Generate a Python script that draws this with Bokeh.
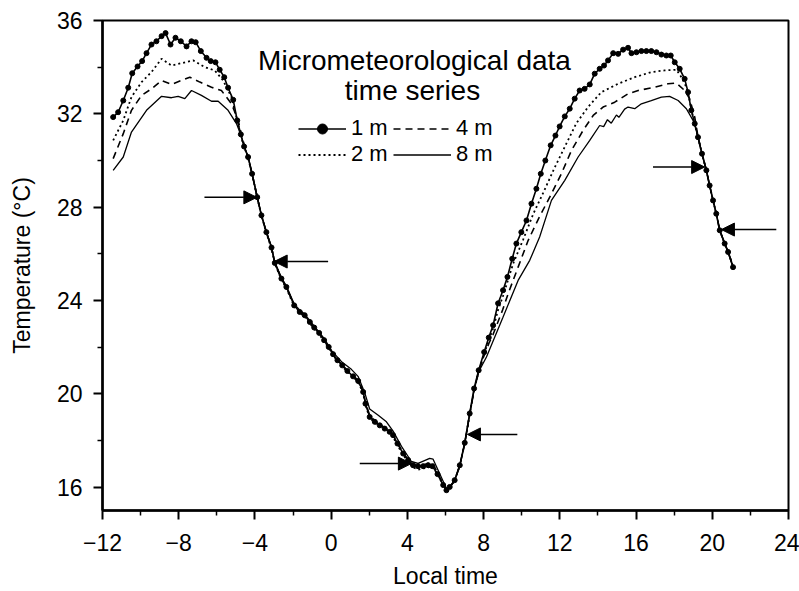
from bokeh.plotting import figure
from bokeh.models import Range1d, FixedTicker, Label, Legend, LegendItem, Arrow, NormalHead
from bokeh.embed import file_html
from bokeh.resources import INLINE

# ---------------- data ----------------
time_1m = [-11.44, -11.18, -10.91, -10.65, -10.44, -10.16, -9.92, -9.69, -9.43, -9.17,
           -8.90, -8.69, -8.43, -8.17, -7.89, -7.59, -7.33, -7.11, -6.84, -6.54,
           -6.32, -6.07, -5.85, -5.61, -5.41, -5.14, -4.93, -4.74, -4.57, -4.36,
           -4.15, -3.88, -3.66, -3.40, -3.13, -2.96, -2.61, -2.35, -1.94, -1.65,
           -1.39, -1.12, -0.89, -0.63, -0.37, -0.13, 0.10, 0.33, 0.58, 0.85,
           1.15, 1.42, 1.68, 1.80, 2.02, 2.29, 2.55, 2.81, 3.07, 3.25,
           3.48, 3.78, 4.04, 4.30, 4.56, 4.83, 5.09, 5.31, 5.58, 5.88,
           6.05, 6.22, 6.48, 6.75, 7.01, 7.27, 7.50, 7.74, 8.03, 8.27,
           8.50, 8.76, 9.02, 9.25, 9.50, 9.72, 9.98, 10.25, 10.51, 10.77,
           11.00, 11.24, 11.52, 11.77, 11.99, 12.26, 12.52, 12.78, 13.04, 13.30,
           13.57, 13.83, 14.09, 14.32, 14.53, 14.80, 15.06, 15.32, 15.58, 15.76,
           16.02, 16.28, 16.54, 16.80, 17.07, 17.33, 17.59, 17.82, 18.03, 18.29,
           18.55, 18.73, 18.90, 19.08, 19.25, 19.46, 19.69, 19.86, 20.04, 20.21,
           20.39, 20.65, 20.83, 21.09]
temp_1m = [31.86, 32.07, 32.57, 33.12, 33.74, 34.03, 34.26, 34.60, 34.97, 35.11,
           35.33, 35.46, 34.97, 35.26, 35.11, 34.89, 35.11, 35.07, 34.69, 34.40,
           34.26, 34.21, 33.89, 33.57, 33.12, 32.60, 31.72, 31.12, 30.60, 30.15,
           29.43, 28.43, 27.65, 26.93, 26.27, 25.61, 24.94, 24.58, 23.79, 23.51,
           23.37, 23.08, 22.84, 22.61, 22.30, 22.01, 21.70, 21.44, 21.22, 20.98,
           20.75, 20.55, 20.08, 19.58, 19.01, 18.80, 18.65, 18.51, 18.37, 18.23,
           17.87, 17.44, 17.16, 16.94, 16.90, 16.90, 16.94, 16.90, 16.56, 16.09,
           15.87, 16.01, 16.30, 16.94, 17.90, 19.16, 20.23, 21.01, 21.79, 22.41,
           22.94, 23.88, 24.44, 25.01, 25.79, 26.44, 26.93, 27.43, 28.15, 28.79,
           29.43, 30.00, 30.65, 31.07, 31.46, 31.89, 32.22, 32.65, 33.00, 33.07,
           33.26, 33.72, 33.93, 34.07, 34.29, 34.60, 34.57, 34.75, 34.83, 34.60,
           34.64, 34.69, 34.69, 34.69, 34.64, 34.54, 34.50, 34.50, 34.21, 33.93,
           33.50, 32.93, 32.15, 31.58, 31.00, 30.29, 29.58, 28.93, 28.29, 27.72,
           27.01, 26.44, 26.08, 25.43]

time_2m = [-11.44, -10.91, -10.48, -9.95, -9.43, -8.90, -8.38, -7.86, -7.24, -6.63,
           -6.11, -5.67, -5.23, -4.97, -4.74, -4.57, -4.36, -4.15, -3.88, -3.66,
           -3.40, -3.13, -2.96, -2.61, -2.35, -1.94, -1.65, -1.39, -1.12, -0.89,
           -0.63, -0.37, -0.13, 0.10, 0.33, 0.58, 0.85, 1.15, 1.42, 1.68,
           1.80, 2.02, 2.29, 2.55, 2.81, 3.07, 3.25, 3.48, 3.78, 4.04,
           4.30, 4.56, 4.83, 5.09, 5.31, 5.58, 5.88, 6.05, 6.22, 6.48,
           6.75, 7.01, 7.27, 7.50, 7.74, 8.03, 8.27, 8.50, 8.76, 9.02,
           9.55, 10.07, 10.60, 11.12, 11.73, 12.34, 12.87, 13.48, 14.18, 15.06,
           15.93, 16.80, 17.50, 18.12, 18.38, 18.64, 18.81, 18.99, 19.08, 19.25,
           19.46, 19.69, 19.86, 20.04, 20.21, 20.39, 20.65, 20.83, 21.09]
temp_2m = [30.86, 31.72, 32.72, 33.36, 33.79, 34.36, 34.07, 34.17, 34.29, 34.00,
           33.86, 33.43, 32.72, 31.86, 31.05, 30.58, 30.12, 29.40, 28.42, 27.63,
           26.90, 26.22, 25.58, 24.90, 24.52, 23.75, 23.48, 23.32, 23.02, 22.78,
           22.55, 22.25, 21.96, 21.66, 21.40, 21.18, 20.95, 20.72, 20.50, 20.02,
           19.52, 18.98, 18.76, 18.60, 18.45, 18.30, 18.15, 17.80, 17.38, 17.08,
           16.85, 16.75, 16.80, 16.85, 16.90, 16.55, 16.10, 15.88, 16.00, 16.28,
           16.92, 17.88, 19.12, 20.18, 20.95, 21.72, 22.30, 22.80, 23.60, 24.20,
           25.58, 26.60, 27.70, 28.60, 29.70, 30.72, 31.60, 32.29, 32.93, 33.29,
           33.57, 33.79, 33.86, 33.89, 33.57, 33.14, 32.57, 31.86, 31.55, 31.00,
           30.29, 29.58, 28.93, 28.29, 27.72, 27.01, 26.44, 26.10, 25.46]

time_4m = [-11.44, -10.91, -10.48, -9.95, -9.43, -8.90, -8.38, -7.86, -7.42, -6.89,
           -6.28, -5.76, -5.23, -4.88, -4.66, -4.36, -4.15, -3.88, -3.66, -3.40,
           -3.13, -2.96, -2.61, -2.35, -1.94, -1.65, -1.39, -1.12, -0.89, -0.63,
           -0.37, -0.13, 0.10, 0.33, 0.58, 0.85, 1.15, 1.42, 1.68, 1.80,
           2.02, 2.29, 2.55, 2.81, 3.07, 3.25, 3.48, 3.78, 4.04, 4.30,
           4.56, 4.83, 5.09, 5.31, 5.58, 5.88, 6.05, 6.22, 6.48, 6.75,
           7.01, 7.27, 7.50, 7.74, 8.03, 8.27, 8.50, 9.00, 9.29, 9.81,
           10.34, 10.94, 11.47, 12.08, 12.61, 13.22, 13.75, 14.27, 14.88, 15.58,
           16.11, 16.98, 17.68, 18.12, 18.55, 18.81, 19.08, 19.25, 19.46, 19.69,
           19.86, 20.04, 20.21, 20.39, 20.65, 20.83, 21.09]
temp_4m = [30.08, 31.15, 32.15, 32.79, 33.07, 33.43, 33.26, 33.43, 33.57, 33.36,
           33.14, 33.00, 32.43, 31.72, 30.95, 30.13, 29.42, 28.42, 27.64, 26.92,
           26.25, 25.60, 24.93, 24.56, 23.80, 23.52, 23.36, 23.06, 22.83, 22.60,
           22.30, 22.00, 21.72, 21.46, 21.25, 21.00, 20.78, 20.58, 20.10, 19.62,
           19.08, 18.85, 18.70, 18.56, 18.40, 18.25, 17.90, 17.48, 17.16, 16.96,
           16.92, 16.95, 17.02, 17.05, 16.62, 16.12, 15.90, 16.00, 16.28, 16.92,
           17.88, 19.12, 20.15, 20.95, 21.65, 22.15, 22.55, 23.60, 24.30, 25.43,
           26.58, 27.60, 28.43, 29.43, 30.43, 31.29, 31.93, 32.29, 32.50, 32.86,
           33.00, 33.14, 33.29, 33.32, 33.00, 32.65, 31.86, 31.02, 30.29, 29.58,
           28.93, 28.29, 27.72, 27.01, 26.44, 26.10, 25.46]

time_8m = [-11.44, -10.91, -10.48, -9.69, -8.90, -8.38, -8.03, -7.68, -7.33, -6.81,
           -6.28, -5.93, -5.41, -4.97, -4.74, -4.57, -4.36, -4.15, -3.88, -3.66,
           -3.40, -3.13, -2.96, -2.61, -2.35, -1.94, -1.65, -1.39, -0.89, -0.37,
           0.02, 0.58, 1.06, 1.41, 1.76, 2.02, 2.47, 2.90, 3.25, 3.69,
           4.21, 4.56, 5.17, 5.35, 6.05, 6.22, 6.48, 6.75, 7.01, 7.27,
           7.50, 7.74, 8.15, 9.00, 9.81, 10.42, 10.94, 11.56, 12.26, 12.96,
           13.57, 14.09, 14.30, 14.50, 14.70, 14.97, 15.10, 15.40, 15.58, 15.93,
           16.28, 16.80, 17.33, 17.76, 18.21, 18.64, 18.99, 19.17, 19.25, 19.46,
           19.69, 19.86, 20.04, 20.21, 20.39, 20.65, 20.83, 21.09]
temp_8m = [29.58, 30.15, 31.22, 32.15, 32.75, 32.69, 32.75, 32.65, 33.00, 32.79,
           32.54, 32.54, 32.15, 31.58, 31.10, 30.62, 30.16, 29.45, 28.45, 27.66,
           26.95, 26.30, 25.66, 24.98, 24.62, 23.85, 23.58, 23.42, 22.90, 22.38,
           21.85, 21.35, 21.05, 20.75, 20.05, 19.35, 19.08, 18.80, 18.40, 17.75,
           17.10, 17.02, 17.23, 17.20, 15.94, 15.97, 16.28, 16.92, 17.88, 19.12,
           20.15, 20.95, 21.58, 23.25, 24.86, 25.72, 26.72, 28.29, 29.15, 30.15,
           30.86, 31.50, 31.45, 31.75, 31.60, 31.95, 31.85, 32.20, 32.29, 32.22,
           32.43, 32.57, 32.72, 32.75, 32.57, 32.22, 31.72, 31.29, 31.00, 30.29,
           29.58, 28.93, 28.29, 27.72, 27.01, 26.44, 26.08, 25.43]

x_ticks = [-12, -8, -4, 0, 4, 8, 12, 16, 20, 24]
x_tick_labels = ["\u221212", "\u22128", "\u22124", "0", "4", "8", "12", "16", "20", "24"]
x_minor_ticks = [-10, -6, -2, 2, 6, 10, 14, 18, 22]
y_ticks = [16, 20, 24, 28, 32, 36]
y_minor_ticks = [18, 22, 26, 30, 34]

# marker arrows (time, temperature)
arrow_x_start = [-6.65, -0.16, 1.50, 9.77, 16.89, 23.36]
arrow_x_end = [-3.90, -2.99, 4.21, 7.15, 19.60, 20.48]
arrow_y = [28.42, 25.67, 17.01, 18.26, 29.72, 27.04]

title_lines = ["Micrometeorological data", "time series"]
legend_labels = ["1 m", "2 m", "4 m", "8 m"]

# ---------------- figure ----------------
FONT = "Liberation Sans"

p = figure(width=799, height=591, output_backend="svg", toolbar_location=None,
           x_range=Range1d(-12, 24), y_range=Range1d(15.0, 36),
           min_border_left=102, min_border_right=11, min_border_top=20,
           min_border_bottom=80)
p.grid.visible = False
p.background_fill_color = "white"
p.border_fill_color = "white"
p.outline_line_color = "black"
p.outline_line_width = 2
p.outline_line_alpha = 1

for ax in (p.xaxis[0], p.yaxis[0]):
    ax.axis_line_width = 2.5
    ax.axis_line_color = "black"
    ax.major_tick_line_width = 2
    ax.minor_tick_line_width = 1.5
    ax.major_tick_line_color = "black"
    ax.minor_tick_line_color = "black"
    ax.major_tick_in = 0
    ax.major_tick_out = 9
    ax.minor_tick_in = 0
    ax.minor_tick_out = 5
    ax.major_label_text_font = FONT
    ax.major_label_text_font_size = "23px"
    ax.major_label_text_color = "black"
    ax.axis_label_text_font = FONT
    ax.axis_label_text_font_size = "23px"
    ax.axis_label_text_font_style = "normal"
    ax.axis_label_text_color = "black"

p.xaxis.ticker = FixedTicker(ticks=x_ticks, minor_ticks=x_minor_ticks)
p.xaxis.major_label_overrides = {t: s for t, s in zip(x_ticks, x_tick_labels)}
p.xaxis.major_label_standoff = 14
p.xaxis.axis_label = "Local time"
p.xaxis.axis_label_standoff = 9

p.yaxis.ticker = FixedTicker(ticks=y_ticks, minor_ticks=y_minor_ticks)
p.yaxis.major_label_standoff = 11
p.yaxis.axis_label = "Temperature (\u00b0C)"
p.yaxis.axis_label_standoff = 19

r8 = p.line(time_8m, temp_8m, line_color="black", line_width=1.3)
r4 = p.line(time_4m, temp_4m, line_color="black", line_width=1.6, line_dash="7 5")
r2 = p.line(time_2m, temp_2m, line_color="black", line_width=1.8, line_dash="2 3")
r1 = p.line(time_1m, temp_1m, line_color="black", line_width=1.6)
r1s = p.scatter(time_1m, temp_1m, marker="circle", size=5,
                fill_color="black", line_color="black")

for xs, xe, yy in zip(arrow_x_start, arrow_x_end, arrow_y):
    p.add_layout(Arrow(end=NormalHead(size=13, fill_color="black", line_color="black",
                                      line_width=1),
                       x_start=xs, y_start=yy, x_end=xe, y_end=yy,
                       line_color="black", line_width=1.5))

p.add_layout(Label(x=312, y=450, x_units="screen", y_units="screen",
                   text=title_lines[0], text_align="center", text_baseline="alphabetic",
                   text_font=FONT, text_font_size="28px", text_color="black"))
p.add_layout(Label(x=310, y=420, x_units="screen", y_units="screen",
                   text=title_lines[1], text_align="center", text_baseline="alphabetic",
                   text_font=FONT, text_font_size="28px", text_color="black"))

def make_legend(label, renderers, x, y, glyph_w):
    return Legend(items=[LegendItem(label=label, renderers=renderers)],
                  location=(x, y), orientation="vertical",
                  glyph_width=glyph_w, glyph_height=25, label_height=25,
                  label_standoff=5, spacing=0, padding=0, margin=0,
                  border_line_alpha=0, background_fill_alpha=0,
                  label_text_font=FONT, label_text_font_size="22px",
                  label_text_color="black")

p.add_layout(make_legend(legend_labels[0], [r1, r1s], 196, 369, 48))
p.add_layout(make_legend(legend_labels[1], [r2], 196, 343, 48))
p.add_layout(make_legend(legend_labels[2], [r4], 291, 369, 58))
p.add_layout(make_legend(legend_labels[3], [r8], 291, 343, 58))

open("out.html", "w").write(file_html(p, INLINE))
